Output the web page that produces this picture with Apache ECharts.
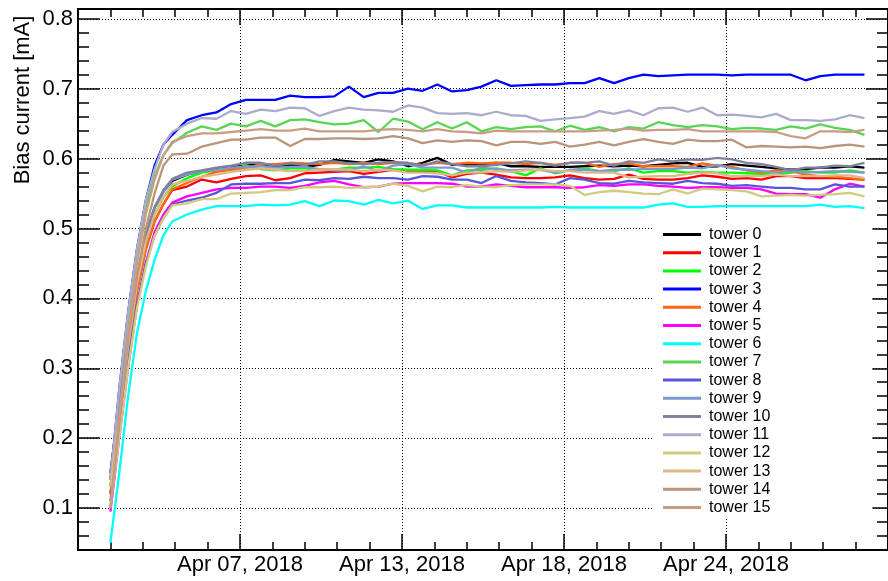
<!DOCTYPE html>
<html>
<head>
<meta charset="utf-8">
<script src="https://cdn.jsdelivr.net/npm/echarts@6/dist/echarts.min.js"></script>
<style>
  html, body { margin: 0; padding: 0; background: #fff; }
  #chart { width: 888px; height: 581px; }
</style>
</head>
<body>
<div id="chart"></div>
<script>
// x values: days since 2018-04-02 00:00
const days = [1.1, 1.4, 1.7, 2.0, 2.3, 2.6, 2.9,
  3.2, 3.7, 4.2, 4.7, 5.2, 5.7, 6.2, 6.7, 7.2,
  7.7, 8.2, 8.7, 9.2, 9.7, 10.2, 10.7, 11.2, 11.7, 12.2, 12.7, 13.2, 13.7, 14.2,
  14.7, 15.2, 15.7, 16.2, 16.7, 17.2, 17.7, 18.2, 18.7, 19.2, 19.7, 20.2, 20.7,
  21.2, 21.7, 22.2, 22.7, 23.2, 23.7, 24.2, 24.7, 25.2, 25.7, 26.2, 26.7];

const towerNames = ["tower 0", "tower 1", "tower 2", "tower 3", "tower 4", "tower 5", "tower 6", "tower 7",
  "tower 8", "tower 9", "tower 10", "tower 11", "tower 12", "tower 13", "tower 14", "tower 15"];

const towerColors = ["#000000", "#ff0000", "#00ff00", "#0000ff", "#ff6611", "#ff00ff", "#00ffff", "#59d454",
  "#5954d9", "#7d99d1", "#80809f", "#ababcc", "#d1ca7f", "#deb887", "#b8957b", "#c99d84"];

// bias current [mA]
const tower0 = [0.15, 0.25, 0.35, 0.43, 0.49, 0.53, 0.553,
  0.568, 0.577, 0.582, 0.585, 0.588, 0.590, 0.592, 0.589, 0.591,
  0.588, 0.591, 0.598, 0.596, 0.594, 0.599, 0.596, 0.589, 0.594, 0.601, 0.591, 0.591, 0.592, 0.594,
  0.589, 0.589, 0.588, 0.588, 0.588, 0.589, 0.590, 0.589, 0.590, 0.589, 0.591, 0.593, 0.594,
  0.588, 0.589, 0.592, 0.590, 0.588, 0.586, 0.584, 0.585, 0.587, 0.587, 0.589, 0.587];
const tower1 = [0.12, 0.22, 0.32, 0.41, 0.47, 0.51, 0.535,
  0.555, 0.560, 0.570, 0.566, 0.571, 0.575, 0.576, 0.569, 0.572,
  0.579, 0.580, 0.581, 0.582, 0.578, 0.581, 0.584, 0.581, 0.582, 0.582, 0.573, 0.578, 0.580, 0.577,
  0.573, 0.572, 0.572, 0.573, 0.576, 0.572, 0.570, 0.571, 0.577, 0.571, 0.570, 0.570, 0.572,
  0.576, 0.574, 0.571, 0.572, 0.570, 0.575, 0.575, 0.572, 0.572, 0.572, 0.571, 0.570];
const tower2 = [0.13, 0.23, 0.33, 0.42, 0.48, 0.52, 0.545,
  0.560, 0.572, 0.580, 0.583, 0.585, 0.590, 0.585, 0.583, 0.586,
  0.586, 0.584, 0.584, 0.587, 0.587, 0.588, 0.585, 0.584, 0.584, 0.583, 0.576, 0.583, 0.584, 0.586,
  0.582, 0.576, 0.586, 0.579, 0.583, 0.586, 0.582, 0.582, 0.586, 0.580, 0.582, 0.582, 0.580,
  0.581, 0.580, 0.580, 0.579, 0.578, 0.577, 0.580, 0.582, 0.580, 0.580, 0.583, 0.580];
const tower3 = [0.14, 0.27, 0.38, 0.47, 0.54, 0.59, 0.62,
  0.634, 0.655, 0.662, 0.666, 0.678, 0.684, 0.684, 0.684, 0.690,
  0.688, 0.688, 0.689, 0.703, 0.688, 0.694, 0.694, 0.700, 0.697, 0.706, 0.696, 0.698, 0.703, 0.712,
  0.704, 0.705, 0.706, 0.706, 0.708, 0.708, 0.715, 0.708, 0.715, 0.720, 0.718, 0.719, 0.720,
  0.720, 0.720, 0.719, 0.720, 0.720, 0.720, 0.720, 0.712, 0.718, 0.720, 0.720, 0.720];
const tower4 = [0.12, 0.22, 0.32, 0.41, 0.47, 0.51, 0.535,
  0.556, 0.565, 0.574, 0.581, 0.584, 0.586, 0.592, 0.592, 0.594,
  0.593, 0.592, 0.594, 0.592, 0.594, 0.592, 0.594, 0.593, 0.591, 0.594, 0.592, 0.594, 0.593, 0.594,
  0.594, 0.592, 0.594, 0.591, 0.594, 0.594, 0.588, 0.592, 0.593, 0.589, 0.589, 0.589, 0.588,
  0.593, 0.590, 0.588, 0.583, 0.580, 0.583, 0.582, 0.577, 0.575, 0.574, 0.572, 0.570];
const tower5 = [0.095, 0.20, 0.30, 0.39, 0.45, 0.495, 0.52,
  0.537, 0.546, 0.551, 0.556, 0.558, 0.558, 0.560, 0.560, 0.558,
  0.561, 0.566, 0.568, 0.563, 0.559, 0.560, 0.564, 0.565, 0.565, 0.565, 0.564, 0.560, 0.560, 0.563,
  0.561, 0.559, 0.559, 0.559, 0.558, 0.559, 0.562, 0.561, 0.563, 0.563, 0.561, 0.560, 0.558,
  0.559, 0.559, 0.558, 0.558, 0.556, 0.550, 0.549, 0.549, 0.544, 0.556, 0.564, 0.560];
const tower6 = [0.05, 0.15, 0.26, 0.35, 0.41, 0.455, 0.49,
  0.510, 0.520, 0.527, 0.532, 0.532, 0.532, 0.534, 0.533, 0.534,
  0.539, 0.532, 0.540, 0.539, 0.534, 0.541, 0.536, 0.540, 0.528, 0.533, 0.533, 0.530, 0.530, 0.530,
  0.530, 0.530, 0.530, 0.531, 0.530, 0.530, 0.530, 0.530, 0.530, 0.530, 0.534, 0.536, 0.531,
  0.531, 0.532, 0.532, 0.532, 0.532, 0.532, 0.532, 0.532, 0.534, 0.531, 0.532, 0.529];
const tower7 = [0.13, 0.26, 0.37, 0.46, 0.53, 0.575, 0.605,
  0.622, 0.637, 0.646, 0.641, 0.650, 0.646, 0.654, 0.646, 0.655,
  0.656, 0.652, 0.649, 0.650, 0.655, 0.638, 0.657, 0.653, 0.642, 0.652, 0.643, 0.652, 0.639, 0.645,
  0.642, 0.645, 0.646, 0.639, 0.647, 0.641, 0.645, 0.639, 0.645, 0.643, 0.652, 0.648, 0.645,
  0.648, 0.646, 0.642, 0.644, 0.643, 0.641, 0.646, 0.643, 0.649, 0.644, 0.641, 0.634];
const tower8 = [0.11, 0.21, 0.31, 0.39, 0.45, 0.49, 0.515,
  0.534, 0.540, 0.544, 0.551, 0.563, 0.564, 0.564, 0.565, 0.565,
  0.570, 0.569, 0.572, 0.571, 0.574, 0.572, 0.572, 0.570, 0.575, 0.574, 0.570, 0.570, 0.565, 0.575,
  0.568, 0.566, 0.565, 0.563, 0.572, 0.570, 0.565, 0.564, 0.568, 0.566, 0.565, 0.564, 0.568,
  0.565, 0.564, 0.561, 0.562, 0.560, 0.558, 0.558, 0.556, 0.556, 0.563, 0.560, 0.560];
const tower9 = [0.14, 0.24, 0.34, 0.43, 0.49, 0.53, 0.552,
  0.570, 0.577, 0.582, 0.584, 0.587, 0.588, 0.589, 0.587, 0.588,
  0.588, 0.585, 0.583, 0.583, 0.589, 0.582, 0.590, 0.592, 0.587, 0.587, 0.587, 0.580, 0.587, 0.585,
  0.583, 0.584, 0.584, 0.580, 0.584, 0.584, 0.582, 0.584, 0.584, 0.585, 0.585, 0.585, 0.587,
  0.586, 0.591, 0.586, 0.584, 0.582, 0.580, 0.582, 0.580, 0.581, 0.582, 0.581, 0.580];
const tower10 = [0.15, 0.25, 0.35, 0.43, 0.49, 0.53, 0.555,
  0.571, 0.580, 0.583, 0.587, 0.590, 0.594, 0.594, 0.590, 0.593,
  0.591, 0.596, 0.596, 0.593, 0.592, 0.594, 0.595, 0.594, 0.590, 0.596, 0.592, 0.589, 0.589, 0.591,
  0.593, 0.596, 0.594, 0.590, 0.594, 0.594, 0.596, 0.590, 0.596, 0.594, 0.599, 0.596, 0.599,
  0.598, 0.601, 0.599, 0.594, 0.592, 0.588, 0.583, 0.587, 0.587, 0.590, 0.589, 0.594];
const tower11 = [0.14, 0.27, 0.38, 0.47, 0.54, 0.585, 0.62,
  0.638, 0.650, 0.658, 0.657, 0.668, 0.664, 0.670, 0.668, 0.673,
  0.672, 0.661, 0.668, 0.673, 0.670, 0.669, 0.667, 0.676, 0.673, 0.665, 0.664, 0.665, 0.662, 0.667,
  0.662, 0.661, 0.654, 0.656, 0.658, 0.660, 0.668, 0.664, 0.669, 0.662, 0.672, 0.673, 0.667,
  0.673, 0.662, 0.663, 0.661, 0.659, 0.664, 0.655, 0.655, 0.654, 0.656, 0.662, 0.658];
const tower12 = [0.10, 0.20, 0.30, 0.385, 0.445, 0.49, 0.515,
  0.533, 0.536, 0.542, 0.542, 0.550, 0.551, 0.552, 0.555, 0.555,
  0.559, 0.559, 0.560, 0.558, 0.559, 0.560, 0.564, 0.561, 0.553, 0.560, 0.559, 0.562, 0.560, 0.559,
  0.562, 0.563, 0.563, 0.563, 0.561, 0.548, 0.552, 0.554, 0.552, 0.550, 0.549, 0.556, 0.550,
  0.557, 0.556, 0.555, 0.553, 0.546, 0.547, 0.548, 0.547, 0.548, 0.549, 0.551, 0.546];
const tower13 = [0.13, 0.23, 0.33, 0.42, 0.48, 0.52, 0.545,
  0.563, 0.568, 0.574, 0.577, 0.581, 0.584, 0.586, 0.584, 0.582,
  0.582, 0.584, 0.585, 0.584, 0.582, 0.584, 0.583, 0.580, 0.580, 0.579, 0.576, 0.580, 0.580, 0.582,
  0.581, 0.583, 0.584, 0.582, 0.582, 0.580, 0.580, 0.580, 0.573, 0.574, 0.575, 0.575, 0.578,
  0.580, 0.579, 0.575, 0.575, 0.575, 0.577, 0.575, 0.575, 0.575, 0.576, 0.576, 0.572];
const tower14 = [0.10, 0.22, 0.34, 0.43, 0.50, 0.55, 0.59,
  0.606, 0.607, 0.617, 0.622, 0.627, 0.627, 0.630, 0.630, 0.618,
  0.628, 0.628, 0.629, 0.629, 0.628, 0.629, 0.632, 0.629, 0.622, 0.626, 0.624, 0.626, 0.625, 0.619,
  0.624, 0.624, 0.621, 0.624, 0.617, 0.620, 0.624, 0.619, 0.624, 0.628, 0.624, 0.621, 0.627,
  0.625, 0.625, 0.627, 0.616, 0.618, 0.617, 0.616, 0.617, 0.615, 0.618, 0.620, 0.617];
const tower15 = [0.10, 0.23, 0.35, 0.45, 0.52, 0.57, 0.605,
  0.624, 0.632, 0.636, 0.636, 0.638, 0.640, 0.642, 0.640, 0.640,
  0.643, 0.639, 0.639, 0.639, 0.639, 0.641, 0.642, 0.641, 0.639, 0.642, 0.639, 0.638, 0.636, 0.640,
  0.639, 0.639, 0.639, 0.639, 0.639, 0.639, 0.640, 0.641, 0.643, 0.640, 0.641, 0.641, 0.642,
  0.639, 0.639, 0.639, 0.639, 0.639, 0.638, 0.632, 0.629, 0.639, 0.639, 0.638, 0.641];

const towerData = [tower0, tower1, tower2, tower3, tower4, tower5, tower6, tower7,
  tower8, tower9, tower10, tower11, tower12, tower13, tower14, tower15];

const FONT = '"Liberation Sans", Arial, sans-serif';
const MONTHS = ["Jan", "Feb", "Mar", "Apr", "May", "Jun", "Jul", "Aug", "Sep", "Oct", "Nov", "Dec"];
const START = Date.UTC(2018, 3, 2);

function dateLabel(v) {
  const d = new Date(START + v * 86400000);
  const dd = String(d.getUTCDate()).padStart(2, "0");
  return MONTHS[d.getUTCMonth()] + " " + dd + ", " + d.getUTCFullYear();
}

const black = { color: "#000", width: 2 };
const tickLine = { color: "#000", width: 1.5 };
const dotted = { show: true, lineStyle: { color: "#000", width: 1, type: [1, 2] } };

function xAxisDef(pos, main) {
  return {
    type: "value",
    position: pos,
    min: 0,
    max: 27.5,
    interval: 5.5,
    axisLine: { show: true, onZero: false, lineStyle: black },
    axisTick: { show: true, inside: true, length: 16, lineStyle: tickLine },
    minorTick: { show: true, splitNumber: 5, length: 8, lineStyle: tickLine },
    axisLabel: main ? {
      show: true, margin: 4, fontSize: 22, fontFamily: FONT, color: "#000",
      showMinLabel: false, showMaxLabel: false, formatter: dateLabel
    } : { show: false },
    splitLine: main ? dotted : { show: false },
    minorSplitLine: { show: false }
  };
}

// major axis: ticks at multiples of 0.1 (nice ticks, no interval set)
function yMajor(pos, main) {
  return {
    type: "value",
    position: pos,
    min: 0.04,
    max: 0.814,
    splitNumber: 8,
    axisLine: { show: true, onZero: false, lineStyle: black },
    axisTick: { show: true, inside: true, length: 22, lineStyle: tickLine },
    axisLabel: main ? {
      show: true, margin: 5, fontSize: 22, fontFamily: FONT, color: "#000",
      showMinLabel: false, showMaxLabel: false,
      formatter: function (v) { return v.toFixed(1); }
    } : { show: false },
    splitLine: main ? dotted : { show: false }
  };
}

// minor ticks every 0.02
function yMinor(pos) {
  return {
    type: "value",
    position: pos,
    min: 0.04,
    max: 0.814,
    interval: 0.02,
    axisLine: { show: true, onZero: false, lineStyle: black },
    axisTick: { show: true, inside: true, length: 11, lineStyle: tickLine },
    axisLabel: { show: false },
    splitLine: { show: false }
  };
}

const series = towerData.map(function (vals, k) {
  return {
    name: towerNames[k],
    type: "line",
    xAxisIndex: 0,
    yAxisIndex: 0,
    symbol: "none",
    showSymbol: false,
    color: towerColors[k],
    lineStyle: { color: towerColors[k], width: 2.3 },
    data: days.map(function (d, i) { return [d, vals[i]]; })
  };
});

const chart = echarts.init(document.getElementById("chart"), null, { renderer: "canvas" });
chart.setOption({
  animation: false,
  backgroundColor: "#fff",
  textStyle: { fontFamily: FONT },
  grid: { left: 78, top: 9, width: 813.5, height: 541 },
  legend: {
    data: towerNames,
    orient: "vertical",
    left: 652,
    top: 222,
    padding: [3.4, 102, 1.4, 11],
    itemGap: 0,
    itemWidth: 38,
    itemHeight: 3,
    icon: "rect",
    selectedMode: false,
    backgroundColor: "#fff",
    textStyle: { fontSize: 16, fontFamily: FONT, color: "#000", lineHeight: 18.2, padding: [0, 0, 0, 3] }
  },
  xAxis: [xAxisDef("bottom", true), xAxisDef("top", false)],
  yAxis: [yMajor("left", true), yMinor("left"), yMajor("right", false), yMinor("right")],
  graphic: [{
    type: "text",
    x: 23,
    y: 100,
    rotation: Math.PI / 2,
    style: {
      text: "Bias current [mA]",
      font: '22px "Liberation Sans", Arial, sans-serif',
      fill: "#000",
      align: "center",
      verticalAlign: "middle"
    }
  }],
  series: series
});
</script>
</body>
</html>
